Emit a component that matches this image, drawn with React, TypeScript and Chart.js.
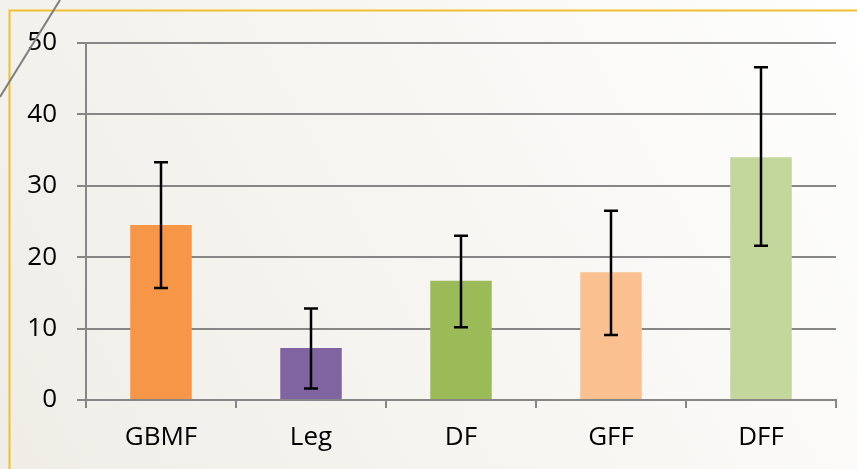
import React, { useEffect, useRef } from "react";
import { Chart, registerables } from "chart.js";

Chart.register(...registerables);

const categories = ["GBMF", "Leg", "DF", "GFF", "DFF"];
const values = [24.5, 7.3, 16.7, 17.9, 34.0];
const errHigh = [33.3, 12.8, 23.0, 26.5, 46.6];
const errLow = [15.7, 1.6, 10.2, 9.1, 21.6];
const barColors = ["#F79646", "#8064A2", "#9BBB59", "#FAC090", "#C3D69B"];
const yTicks = [0, 10, 20, 30, 40, 50];

const FONT = "'Open Sans', 'Noto Sans', sans-serif";

const backgroundPlugin = {
  id: "bgDeco",
  beforeDraw(chart: any) {
    const { ctx, width, height } = chart;
    ctx.save();
    const g = ctx.createLinearGradient(0, height, width, 0);
    g.addColorStop(0, "#efede6");
    g.addColorStop(1, "#fefefe");
    ctx.fillStyle = g;
    ctx.fillRect(0, 0, width, height);
    ctx.restore();
  },
  afterDraw(chart: any) {
    const { ctx, width, height } = chart;
    ctx.save();
    ctx.strokeStyle = "#EFBF2F";
    ctx.lineWidth = 2;
    ctx.beginPath();
    ctx.moveTo(9.5, height);
    ctx.lineTo(9.5, 10.5);
    ctx.lineTo(width, 10.5);
    ctx.stroke();
    ctx.strokeStyle = "#7f7f7f";
    ctx.lineWidth = 2;
    ctx.beginPath();
    ctx.moveTo(0, 97);
    ctx.lineTo(60, 0);
    ctx.stroke();
    ctx.restore();
  },
};

const errorBarPlugin = {
  id: "errorBars",
  afterDatasetsDraw(chart: any) {
    const { ctx } = chart;
    const meta = chart.getDatasetMeta(0);
    const yScale = chart.scales.y;
    ctx.save();
    ctx.strokeStyle = "#000000";
    ctx.lineWidth = 2.5;
    meta.data.forEach((bar: any, i: number) => {
      const x = bar.x;
      const yH = yScale.getPixelForValue(errHigh[i]);
      const yL = yScale.getPixelForValue(errLow[i]);
      const cap = 7;
      ctx.beginPath();
      ctx.moveTo(x, yH);
      ctx.lineTo(x, yL);
      ctx.moveTo(x - cap, yH);
      ctx.lineTo(x + cap, yH);
      ctx.moveTo(x - cap, yL);
      ctx.lineTo(x + cap, yL);
      ctx.stroke();
    });
    ctx.restore();
  },
};

export default function App() {
  const ref = useRef<HTMLCanvasElement | null>(null);
  useEffect(() => {
    document.body.style.margin = "0";
    const canvas = ref.current;
    if (!canvas) return;
    const chart = new Chart(canvas, {
      type: "bar",
      data: {
        labels: categories,
        datasets: [
          {
            data: values,
            backgroundColor: barColors,
            barPercentage: 0.41,
            categoryPercentage: 1,
          },
        ],
      },
      options: {
        animation: false,
        responsive: false,
        maintainAspectRatio: false,
        layout: { padding: { top: 43, right: 21, left: 0, bottom: 0 } },
        plugins: { legend: { display: false }, tooltip: { enabled: false } },
        scales: {
          x: {
            offset: true,
            afterFit(scale: any) {
              scale.height = 69;
            },
            grid: {
              offset: true,
              drawOnChartArea: false,
              drawTicks: true,
              tickLength: 8,
              color: "#868686",
              lineWidth: 2,
            },
            border: { display: true, color: "#868686", width: 2 },
            ticks: {
              color: "#000000",
              font: { family: FONT, size: 26 },
              padding: 14,
            },
          },
          y: {
            min: 0,
            max: 50,
            afterFit(scale: any) {
              scale.width = 86;
            },
            afterBuildTicks(scale: any) {
              scale.ticks = yTicks.map((v) => ({ value: v }));
            },
            grid: {
              color: "#868686",
              lineWidth: 2,
              tickLength: 9,
              drawTicks: true,
            },
            border: { display: true, color: "#868686", width: 2 },
            ticks: {
              color: "#000000",
              font: { family: FONT, size: 26 },
              padding: 20,
            },
          },
        },
      },
      plugins: [backgroundPlugin, errorBarPlugin],
    });
    return () => chart.destroy();
  }, []);
  return (
    <div style={{ position: "absolute", left: 0, top: 0, width: 857, height: 469 }}>
      <canvas ref={ref} width={857} height={469} style={{ display: "block" }} />
    </div>
  );
}
